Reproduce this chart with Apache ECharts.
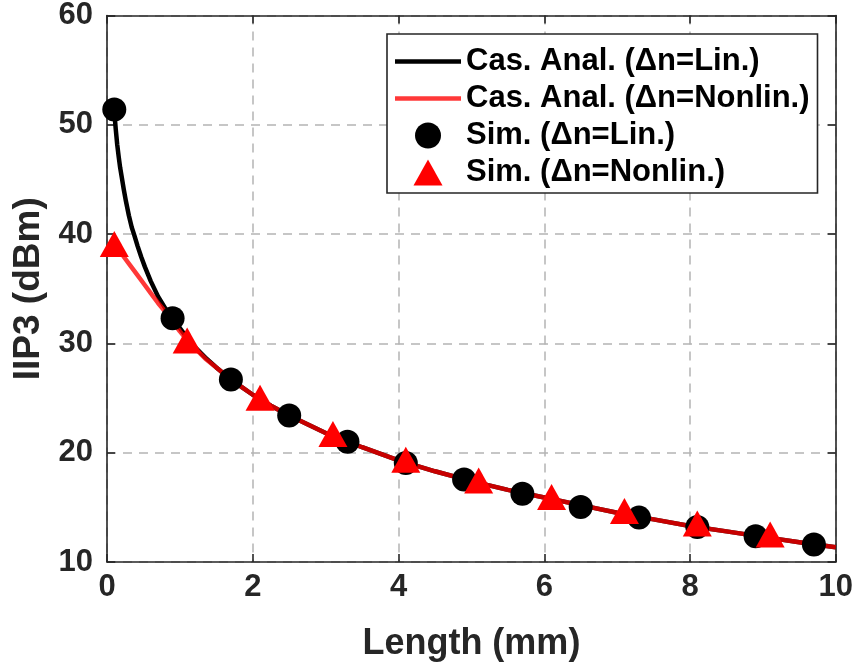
<!DOCTYPE html>
<html>
<head>
<meta charset="utf-8">
<script src="https://cdn.jsdelivr.net/npm/echarts@6/dist/echarts.min.js"></script>
<style>html,body{margin:0;padding:0;background:#fff}#c{width:856px;height:669px}</style>
</head>
<body>
<div id="c"></div>
<script>
const xTicks = [0, 2, 4, 6, 8, 10];
const yTicks = [10, 20, 30, 40, 50, 60];

const linLineX = [0.1,0.11,0.12,0.13,0.14,0.16,0.18,0.2,0.23,0.26,0.3,0.34,0.37,0.42,0.47,0.52,0.6,0.7,0.8,0.9,1.0,1.1,1.2,1.35,1.5,1.7,1.85,2.0,2.25,2.5,2.75,3.0,3.5,4.0,4.5,5.0,5.5,6.0,6.5,7.0,7.5,8.0,8.5,9.0,9.5,10];
const linLineY = [51.4,50.4,49.6,48.9,48.2,47.1,46.1,45.3,44.1,43.0,41.7,40.6,40.0,38.9,37.9,37.0,35.7,34.3,33.2,32.3,31.4,30.5,29.7,28.7,27.8,26.7,26.0,25.3,24.3,23.4,22.6,21.8,20.5,19.3,18.3,17.4,16.6,15.9,15.2,14.5,13.9,13.3,12.8,12.3,11.8,11.35];

const nonLineX = [0.1,0.2,0.3,0.4,0.5,0.6,0.7,0.8,0.9,1.0,1.1,1.2,1.35,1.5,1.7,1.85,2.0,2.25,2.5,2.75,3.0,3.5,4.0,4.5,5.0,5.5,6.0,6.5,7.0,7.5,8.0,8.5,9.0,9.5,10];
const nonLineY = [39.1,38.2,37.3,36.4,35.5,34.6,33.7,32.9,32.0,31.1,30.3,29.6,28.6,27.8,26.7,26.0,25.3,24.3,23.4,22.6,21.8,20.5,19.3,18.3,17.4,16.6,15.9,15.2,14.5,13.9,13.3,12.8,12.3,11.8,11.35];

const simLinX = [0.1,0.9,1.7,2.5,3.3,4.1,4.9,5.7,6.5,7.3,8.1,8.9,9.7];
const simLinY = [51.4,32.3,26.7,23.4,21.0,19.05,17.55,16.25,15.03,14.06,13.2,12.36,11.6];

const simNonX = [0.1,1.1,2.1,3.1,4.1,5.1,6.1,7.1,8.1,9.1];
const simNonY = [39.1,30.27,25.03,21.7,19.36,17.45,15.94,14.67,13.52,12.52];

const names = ['Cas. Anal. (\u0394n=Lin.)','Cas. Anal. (\u0394n=Nonlin.)','Sim. (\u0394n=Lin.)','Sim. (\u0394n=Nonlin.)'];

const zip = (a, b) => a.map((v, i) => [v, b[i]]);
const FONT = '"Liberation Sans", Arial, Helvetica, sans-serif';
const AX = '#262626';
const RED_LINE = 'rgba(255,0,0,0.78)';

const chart = echarts.init(document.getElementById('c'), null, {renderer: 'canvas'});
const baseAxisLine = {show: true, onZero: false, lineStyle: {color: AX, width: 1.6}};
const tick = {show: true, inside: true, length: 8, lineStyle: {color: AX, width: 1.6}};
const grid = {show: true, lineStyle: {color: '#b4b4b4', width: 1.5, type: [9, 7]}};
const lineIcon = 'path://M0,0 H66 V4.5 H0 Z';
const triIcon = 'path://M14.5,0 L29,26 L0,26 Z';

chart.setOption({
  animation: false,
  backgroundColor: '#fff',
  grid: {left: 107, right: 20, top: 12, bottom: 107, containLabel: false},
  xAxis: [
    {type: 'value', min: xTicks[0], max: xTicks[xTicks.length-1], interval: 2, position: 'bottom',
     axisLine: baseAxisLine, axisTick: tick, splitLine: grid,
     axisLabel: {color: AX, fontFamily: FONT, fontWeight: 'bold', fontSize: 31, margin: 10},
     name: 'Length (mm)', nameLocation: 'middle', nameGap: 64,
     nameTextStyle: {color: AX, fontFamily: FONT, fontWeight: 'bold', fontSize: 36}},
    {type: 'value', min: xTicks[0], max: xTicks[xTicks.length-1], interval: 2, position: 'top',
     axisLine: baseAxisLine, axisTick: tick, splitLine: {show: false}, axisLabel: {show: false}}
  ],
  yAxis: [
    {type: 'value', min: yTicks[0], max: yTicks[yTicks.length-1], interval: 10, position: 'left',
     axisLine: baseAxisLine, axisTick: tick, splitLine: grid,
     axisLabel: {color: AX, fontFamily: FONT, fontWeight: 'bold', fontSize: 31, margin: 14},
     name: 'IIP3 (dBm)', nameLocation: 'middle', nameGap: 45,
     nameTextStyle: {color: AX, fontFamily: FONT, fontWeight: 'bold', fontSize: 37}},
    {type: 'value', min: yTicks[0], max: yTicks[yTicks.length-1], interval: 10, position: 'right',
     axisLine: baseAxisLine, axisTick: tick, splitLine: {show: false}, axisLabel: {show: false}}
  ],
  legend: {
    orient: 'vertical', left: 387, top: 34,
    padding: [12, 8, 5, 8],
    itemWidth: 66, itemHeight: 26, itemGap: 6,
    backgroundColor: '#fff', borderColor: AX, borderWidth: 1.6, borderRadius: 0,
    textStyle: {color: '#000', fontFamily: FONT, fontWeight: 'bold', fontSize: 31},
    data: [
      {name: names[0], icon: lineIcon, itemStyle: {color: '#000'}},
      {name: names[1], icon: lineIcon, itemStyle: {color: RED_LINE}},
      {name: names[2], icon: 'circle'},
      {name: names[3], icon: triIcon}
    ]
  },
  series: [
    {name: names[0], type: 'line', data: zip(linLineX, linLineY), symbol: 'none', showSymbol: false,
     lineStyle: {color: '#000', width: 4.5, join: 'round'}, itemStyle: {color: '#000'}, z: 2},
    {name: names[1], type: 'line', data: zip(nonLineX, nonLineY), symbol: 'none', showSymbol: false,
     lineStyle: {color: RED_LINE, width: 4.5, join: 'round'}, itemStyle: {color: RED_LINE}, z: 3},
    {name: names[2], type: 'scatter', data: zip(simLinX, simLinY), symbol: 'circle', symbolSize: 24,
     itemStyle: {color: '#000', opacity: 1}, z: 4},
    {name: names[3], type: 'scatter', data: zip(simNonX, simNonY), symbol: 'triangle', symbolSize: [29, 26],
     itemStyle: {color: '#ff0000', opacity: 1}, z: 5}
  ]
});
</script>
</body>
</html>
